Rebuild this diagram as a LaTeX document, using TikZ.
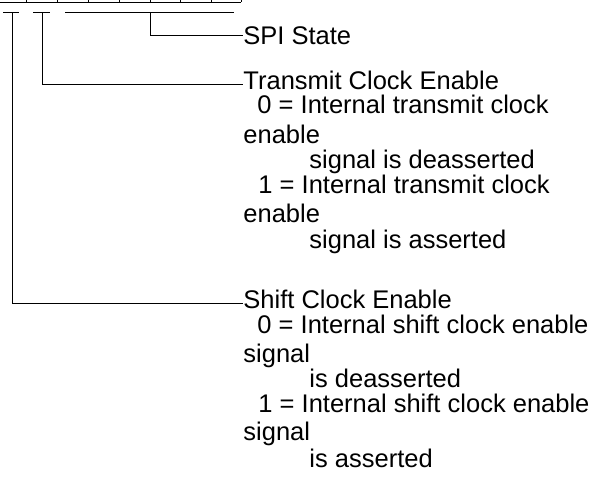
\documentclass[tikz,border=0pt]{standalone}
\usepackage{fontspec}
\setmainfont{Liberation Sans}
\begin{document}
\begin{tikzpicture}[x=1pt,y=-1pt,line width=0.9pt,
  lbl/.style={anchor=base west,inner sep=0pt,text height=18.3pt,text depth=5.3pt,
    font=\fontsize{25.5}{30}\selectfont}]
\useasboundingbox (0,0) rectangle (594,483);
\clip (0,0) rectangle (594,483);
% register table bottom edge
\draw (-10,2.3) -- (241.3,2.3);
\foreach \x in {26.7,57.3,88.3,119,150,180.7,211.7,241.3}
  \draw (\x,-5) -- (\x,2.3);
% brackets
\draw (3.3,12.3) -- (19,12.3);
\draw (33,12.3) -- (50,12.3);
\draw (65,12.3) -- (234,12.3);
\coordinate (b0) at (12.3,12.3);
\coordinate (b1) at (42.3,12.3);
\coordinate (b2) at (150,12.3);
% labels
\node[lbl] (spi) at (243,44) {SPI State};
\node[lbl] (tce) at (243,89) {Transmit Clock Enable};
\node[lbl] (t0) at (257,113) {0 = Internal transmit clock};
\node[lbl] (t0b) at (243,143) {enable};
\node[lbl] (t0c) at (309,168) {signal is deasserted};
\node[lbl] (t1) at (258,193) {1 = Internal transmit clock};
\node[lbl] (t1b) at (243,222) {enable};
\node[lbl] (t1c) at (309,248) {signal is asserted};
\node[lbl] (sce) at (243,308) {Shift Clock Enable};
\node[lbl] (s0) at (257,333) {0 = Internal shift clock enable};
\node[lbl] (s0b) at (243,362) {signal};
\node[lbl] (s0c) at (309,387) {is deasserted};
\node[lbl] (s1) at (258,412) {1 = Internal shift clock enable};
\node[lbl] (s1b) at (243,440) {signal};
\node[lbl] (s1c) at (309,467) {is asserted};
% connectors
\draw (b2) |- (spi.west |- 0,35);
\draw (b1) |- (tce.west |- 0,84);
\draw (b0) |- (sce.west |- 0,303);
\end{tikzpicture}
\end{document}
